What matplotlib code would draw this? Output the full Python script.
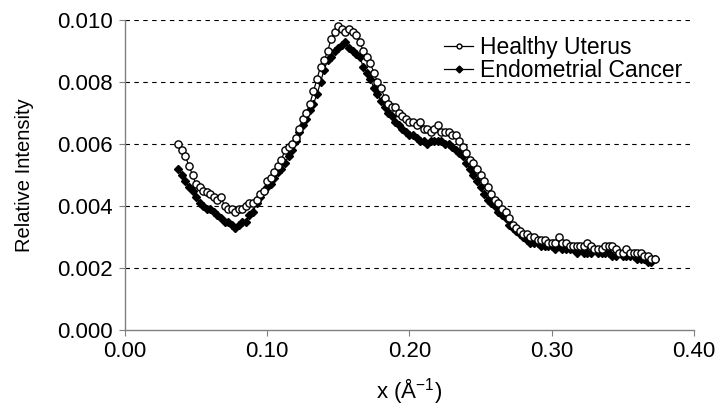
import numpy as np
import matplotlib
matplotlib.use("Agg")
import matplotlib.pyplot as plt

plt.rcParams['font.family'] = ['Liberation Sans', 'DejaVu Sans']
plt.rcParams['mathtext.default'] = 'regular'

# sampling positions (A^-1)
x = np.arange(135) * 0.0025 + 0.0375

healthy = [
    0.0060, 0.0058, 0.0056, 0.0053, 0.0050, 0.0047, 0.0046, 0.0045, 0.00445, 0.0044,
    0.0043, 0.0042, 0.0043, 0.0040, 0.0039, 0.0039, 0.0038, 0.0039, 0.0039, 0.0040,
    0.0041, 0.0041, 0.0042, 0.0044, 0.0045, 0.0048, 0.0049, 0.0051, 0.0053, 0.0055,
    0.0058, 0.0059, 0.0060, 0.0062, 0.0065, 0.0068, 0.0070, 0.0073, 0.0077, 0.0081,
    0.0085, 0.0087, 0.0090, 0.0094, 0.0096, 0.0098, 0.0097, 0.0096, 0.0097, 0.0096,
    0.0095, 0.0093, 0.0090, 0.0088, 0.0086, 0.0083, 0.0080, 0.0078, 0.0075, 0.0073,
    0.0072, 0.0072, 0.0070, 0.0069, 0.0068, 0.0067, 0.0067, 0.0066, 0.0067, 0.0065,
    0.0065, 0.0064, 0.0065, 0.0066, 0.0064, 0.0064, 0.0064, 0.0063, 0.0063, 0.0061,
    0.0059, 0.0057, 0.0055, 0.0054, 0.0052, 0.0050, 0.0048, 0.0046, 0.0044, 0.0042,
    0.0041, 0.0039, 0.0038, 0.0036, 0.0034, 0.0033, 0.0032, 0.0031, 0.0031, 0.0030,
    0.0030, 0.0029, 0.0029, 0.0029, 0.0028, 0.0028, 0.0028, 0.0030, 0.0028, 0.0028,
    0.0027, 0.0027, 0.0027, 0.0027, 0.0027, 0.0028, 0.0027, 0.0026, 0.0026, 0.0026,
    0.0027, 0.0027, 0.0027, 0.0026, 0.0025, 0.0025, 0.0026, 0.0025, 0.0025, 0.0025,
    0.0025, 0.0024, 0.0024, 0.0023, 0.0023,
]

cancer = [
    0.0052, 0.0050, 0.0048, 0.0046, 0.0045, 0.0043, 0.0041, 0.0040, 0.0039, 0.0039,
    0.0038, 0.0037, 0.0036, 0.0035, 0.0035, 0.0034, 0.0033, 0.0034, 0.0035, 0.0035,
    0.0037, 0.0038, 0.0041, 0.0043, 0.0045, 0.0046, 0.0047, 0.0049, 0.0051, 0.0052,
    0.0054, 0.0056, 0.0058, 0.0061, 0.0064, 0.0066, 0.0068, 0.0071, 0.0073, 0.0076,
    0.0080, 0.0084, 0.0087, 0.0088, 0.0090, 0.0091, 0.0092, 0.0093, 0.0091, 0.0090,
    0.0089, 0.0088, 0.0085, 0.0083, 0.0081, 0.0078, 0.0076, 0.0074, 0.0072, 0.0070,
    0.0069, 0.0067, 0.0066, 0.0065, 0.0064, 0.0063, 0.0063, 0.0062, 0.0061, 0.0061,
    0.0060, 0.0061, 0.0061, 0.0061, 0.0061, 0.0060, 0.0060, 0.0059, 0.0058, 0.0057,
    0.0056, 0.0054, 0.0052, 0.0050, 0.0048, 0.0046, 0.0044, 0.0042, 0.0041, 0.0040,
    0.0038, 0.0037, 0.0036, 0.0034, 0.0033, 0.0032, 0.0031, 0.0030, 0.0029, 0.0028,
    0.0028, 0.0028, 0.0027, 0.0027, 0.0027, 0.0027, 0.0026, 0.0027, 0.0026, 0.0026,
    0.0026, 0.0026, 0.0025, 0.0026, 0.0025, 0.0025, 0.0025, 0.0026, 0.0025, 0.0025,
    0.0025, 0.0025, 0.0024, 0.0024, 0.0025, 0.0024, 0.0024, 0.0024, 0.0024, 0.0023,
    0.0023, 0.0023, 0.0022, 0.0022, 0.0023,
]

fig = plt.figure(figsize=(7.18, 4.08), dpi=100)
ax = fig.add_axes([0.174, 0.191, 0.7926, 0.76])

ax.plot(x, cancer, '-', color='black', lw=0.9, marker='D', ms=3.8,
        mfc='black', mec='black', label='Endometrial Cancer', zorder=3)
ax.plot(x, healthy, '-', color='black', lw=0.9, marker='o', ms=5.2,
        mfc='white', mec='black', mew=1.0, label='Healthy Uterus', zorder=4)

ax.set_xlim(0, 0.40)
ax.set_ylim(0, 0.010)
ax.set_xticks(np.arange(0, 0.41, 0.1))
ax.set_yticks(np.arange(0, 0.0101, 0.002))
ax.set_xticklabels(['0.00', '0.10', '0.20', '0.30', '0.40'])
ax.set_yticklabels(['0.000', '0.002', '0.004', '0.006', '0.008', '0.010'])

for y in np.arange(0.002, 0.0101, 0.002):
    ax.axhline(y, color='black', lw=0.8, ls=(0, (4, 4)), zorder=1)

for s in ['top', 'right']:
    ax.spines[s].set_visible(False)
for s in ['left', 'bottom']:
    ax.spines[s].set_color('#808080')
    ax.spines[s].set_linewidth(1.0)
ax.tick_params(direction='out', length=4, color='#808080', labelsize=16)
ax.tick_params(axis='y', pad=5)
ax.tick_params(axis='x', pad=4)

ax.set_xlabel('x (Å$^{-1}$)', fontsize=16, labelpad=10)
ax.set_ylabel('Relative Intensity', fontsize=14.5, labelpad=16)

h, l = ax.get_legend_handles_labels()
leg = ax.legend(h[::-1], l[::-1], loc='upper right', frameon=False, fontsize=16.5,
                handlelength=1.3, handletextpad=0.3, labelspacing=0.0,
                borderaxespad=0.1, bbox_to_anchor=(1.0, 0.985))
for ln in leg.get_lines():
    ln.set_markersize(3.5)

fig.savefig('out.png', dpi=100)
